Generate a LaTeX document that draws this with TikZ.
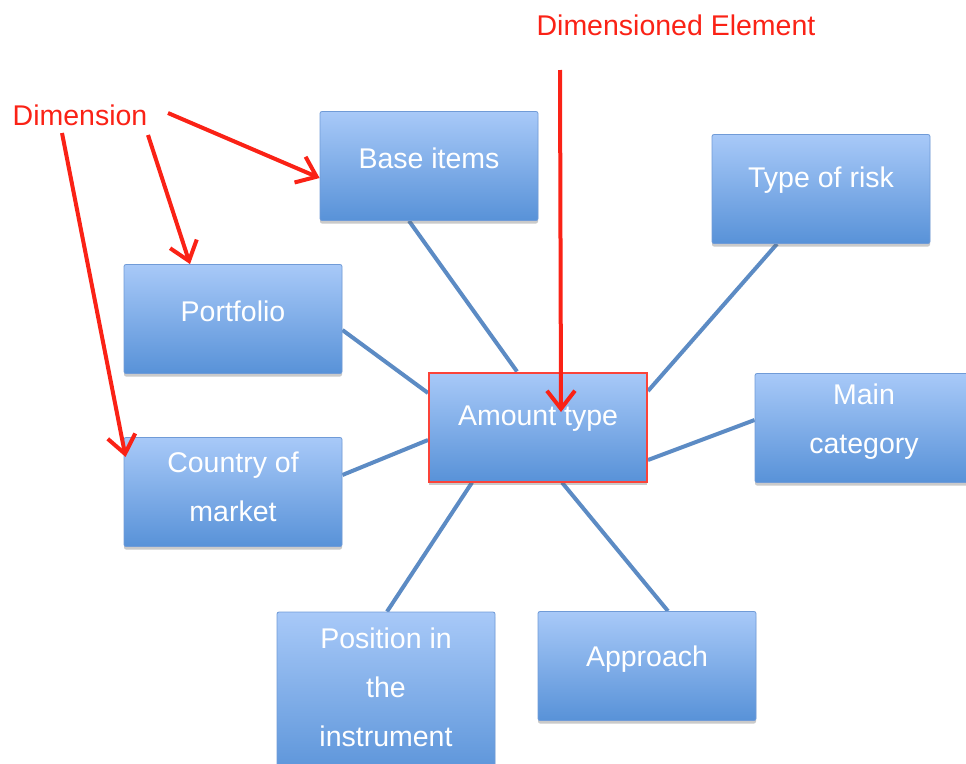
\documentclass[tikz,border=0pt]{standalone}
\usepackage{fontspec}
\setmainfont{Liberation Sans}
\usetikzlibrary{arrows.meta,shadows,backgrounds}

\definecolor{boxtop}{RGB}{168,201,248}
\definecolor{boxbot}{RGB}{88,146,216}
\definecolor{boxline}{RGB}{112,155,215}
\definecolor{linkblue}{RGB}{92,139,196}
\definecolor{markred}{RGB}{250,34,22}

\tikzset{
  box/.style={rectangle, rounded corners=2pt, draw=boxline, line width=0.8pt,
    top color=boxtop, bottom color=boxbot,
    minimum width=218pt, minimum height=109pt, inner sep=0pt,
    drop shadow={opacity=0.35, fill=black!60, shadow xshift=0pt, shadow yshift=-3pt}},
  centerbox/.style={box, rounded corners=0pt, draw=markred!85!white, line width=2pt},
  boxtext/.style={text=white, align=center, inner sep=0pt,
    font=\fontsize{28.5}{49}\selectfont},
  link/.style={draw=linkblue, line width=4pt},
  tag/.style={text=markred, inner sep=0pt, font=\fontsize{28.5}{34}\selectfont},
  pointer/.style={draw=markred, line width=4pt,
    -{Straight Barb[length=18pt, width=28pt, line width=4pt]}}
}

\begin{document}
\begin{tikzpicture}[x=1pt, y=-1pt]
  \useasboundingbox (0,0) rectangle (966,763);
  \clip (0,0) rectangle (966,763);

  % boxes
  \node[box] (base) at (429,166) {};
  \node[box] (risk) at (821,189) {};
  \node[box] (port) at (233,319) {};
  \node[centerbox] (amount) at (538,427) {};
  \node[box] (main) at (864,428) {};
  \node[box] (country) at (233,492) {};
  \node[box, minimum height=170pt] (position) at (386,697) {};
  \node[box] (approach) at (647,666) {};

  % box labels
  \node[boxtext] (baseT) at (429,158) {Base items};
  \node[boxtext] (riskT) at (821,180) {Type of risk};
  \node[boxtext] (portT) at (233,311) {Portfolio};
  \node[boxtext] (amountT) at (538,419) {Amount type};
  \node[boxtext] (mainT) at (864,422) {Main\\category};
  \node[boxtext] (countryT) at (233,487) {Country of\\market};
  \node[boxtext] (positionT) at (386,687) {Position in\\the\\instrument};
  \node[boxtext] (approachT) at (647,659) {Approach};

  % spokes behind the boxes
  \begin{pgfonlayer}{background}
    \draw[link] ([xshift=-20pt]base.south) -- ([xshift=-21pt]amount.north);
    \draw[link] ([xshift=-44pt]risk.south) -- ([yshift=36pt]amount.east);
    \draw[link] ([yshift=-11pt]port.east) -- ([yshift=34pt]amount.west);
    \draw[link] ([yshift=17pt]country.east) -- ([yshift=-13pt]amount.west);
    \draw[link] ([yshift=8pt]main.west) -- ([yshift=-33pt]amount.east);
    \draw[link] ([xshift=-66pt]amount.south) -- ([xshift=1pt]position.north);
    \draw[link] ([xshift=24pt]amount.south) -- ([xshift=21pt]approach.north);
  \end{pgfonlayer}

  % annotations
  \node[tag] (dim) at (80,115) {Dimension};
  \node[tag] (dimel) at (676,25) {Dimensioned Element};

  \coordinate (d1) at (168,113);
  \coordinate (d2) at (148,135);
  \coordinate (d3) at (62,133);
  \coordinate (e1) at (560,70);

  \draw[pointer] (d1) -- ([yshift=-12pt]base.west);
  \draw[pointer] (d2) -- ([xshift=-43pt]port.north);
  \draw[pointer] (d3) -- ([xshift=2pt,yshift=35pt]country.west);
  \draw[pointer] (e1) -- ([xshift=23pt,yshift=15pt]amount.center);
\end{tikzpicture}
\end{document}
